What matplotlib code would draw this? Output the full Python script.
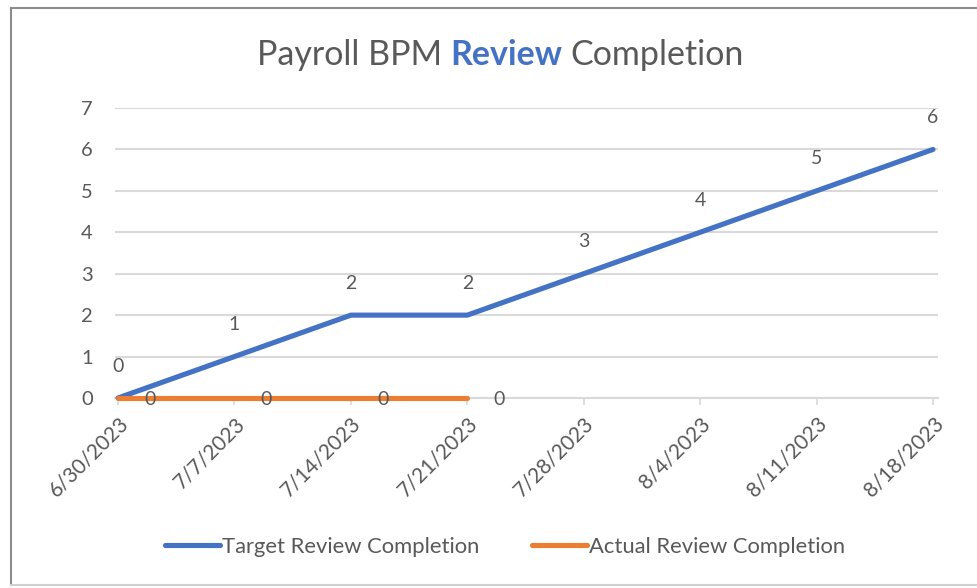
import matplotlib
matplotlib.use("Agg")
import matplotlib.pyplot as plt
from matplotlib.lines import Line2D

plt.rcParams['font.family'] = ['Lato', 'DejaVu Sans']

dates = ["6/30/2023", "7/7/2023", "7/14/2023", "7/21/2023",
         "7/28/2023", "8/4/2023", "8/11/2023", "8/18/2023"]
target = [0, 1, 2, 2, 3, 4, 5, 6]
actual = [0, 0, 0, 0]

BLUE = "#4472C4"
ORANGE = "#ED7D31"
TXT = "#595959"
GRID = "#D9D9D9"

W, H = 977, 588
fig = plt.figure(figsize=(W / 100, H / 100), dpi=100)
ax = fig.add_axes([115 / W, 1 - 398 / H, (938 - 115) / W, (398 - 108) / H])

x_t = list(range(len(target)))
x_a = list(range(len(actual)))
ax.plot(x_t, target, color=BLUE, lw=3.7, solid_capstyle='round', label="Target Review Completion",
        zorder=3, clip_on=False)
ax.plot(x_a, actual, color=ORANGE, lw=3.7, solid_capstyle='round', label="Actual Review Completion",
        zorder=3, clip_on=False)

for xi, v in zip(x_t, target):
    ax.annotate(str(v), (xi, v), xytext=(0, 23), textcoords='offset points',
                ha='center', va='center', fontsize=14, color=TXT)
for xi, v in zip(x_a, actual):
    ax.annotate(str(v), (xi, v), xytext=(23, -1), textcoords='offset points',
                ha='center', va='center', fontsize=14, color=TXT)

ax.set_ylim(0, 7)
ax.set_xlim(-3 / 116.43, 7 + 5 / 116.43)
ax.set_yticks(range(0, 8))
ax.yaxis.grid(True, color=GRID, lw=1.5)
ax.set_axisbelow(True)
ax.set_xticks(x_t)
ax.set_xticklabels(dates, rotation=45, ha='right', va='top', rotation_mode='anchor')
ax.tick_params(axis='y', length=0, pad=16, labelsize=14.5, labelcolor=TXT)
ax.tick_params(axis='x', length=5, width=1.2, color=GRID, pad=6, labelsize=15, labelcolor=TXT)
for s in ['top', 'right', 'left']:
    ax.spines[s].set_visible(False)
ax.spines['bottom'].set_color(GRID)
ax.spines['bottom'].set_linewidth(1.5)

# Title with mixed style
y_base = 1 - 65 / H
TS = 24.5
t1 = fig.text(0, y_base, "Payroll BPM", fontsize=TS, color=TXT, ha='left', va='baseline')
t2 = fig.text(0, y_base, "Review", fontsize=TS, color=BLUE, fontweight='bold', ha='left', va='baseline')
t3 = fig.text(0, y_base, "Completion", fontsize=TS, color=TXT, ha='left', va='baseline')
fig.canvas.draw()
r = fig.canvas.get_renderer()
w1 = t1.get_window_extent(r).width
w2 = t2.get_window_extent(r).width
w3 = t3.get_window_extent(r).width
gap = 8
total = w1 + gap + w2 + gap + w3
x0 = 500 - total / 2
t1.set_x(x0 / W)
t2.set_x((x0 + w1 + gap) / W)
t3.set_x((x0 + w1 + gap + w2 + gap) / W)

leg = fig.legend(loc='center', bbox_to_anchor=(505 / W, 1 - 547 / H), ncol=2, frameon=False,
                 fontsize=15.8, handlelength=2.5, handletextpad=0.1, columnspacing=2.4, labelcolor=TXT)

# chart border
fig.add_artist(Line2D([11 / W, 11 / W], [1 - 585 / H, 1 - 8 / H], transform=fig.transFigure, color="#8C8C8C", lw=1.5))
fig.add_artist(Line2D([11 / W, 1], [1 - 8 / H, 1 - 8 / H], transform=fig.transFigure, color="#8C8C8C", lw=1.5))
fig.add_artist(Line2D([11 / W, 1], [1 - 585 / H, 1 - 585 / H], transform=fig.transFigure, color="#D0D0D0", lw=1.5))

fig.savefig("out.png", dpi=100)
